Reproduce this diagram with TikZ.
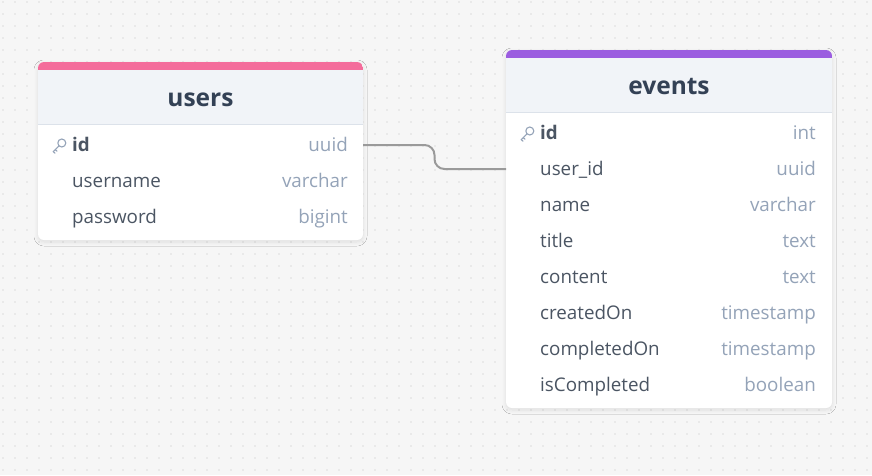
\documentclass[tikz,border=0pt]{standalone}
\usepackage{fontspec}
\setmainfont{Open Sans}
\usetikzlibrary{shadows.blur,calc}
\definecolor{bg}{HTML}{F6F6F6}
\definecolor{dotc}{HTML}{BEBEBE}
\definecolor{pinkband}{HTML}{F46C9B}
\definecolor{purpband}{HTML}{9B5DE0}
\definecolor{headfill}{HTML}{F1F4F8}
\definecolor{headline}{HTML}{DCE2EA}
\definecolor{titlec}{HTML}{334155}
\definecolor{fieldc}{HTML}{4B5563}
\definecolor{typec}{HTML}{94A3B8}
\definecolor{keyc}{HTML}{94A3B8}
\definecolor{linkc}{HTML}{9A9A9A}
\tikzset{
  tablebox/.style={fill=white, rounded corners=6pt, blur shadow={shadow blur steps=8, shadow xshift=0pt, shadow yshift=-2pt, shadow opacity=10, shadow blur radius=4pt}},
  tabletitle/.style={font=\fontsize{24.5}{28}\selectfont\bfseries, text=titlec, inner sep=0pt, anchor=base},
  fieldname/.style={font=\fontsize{18.8}{22}\selectfont, text=fieldc, anchor=base west, inner sep=0pt},
  keyname/.style={font=\fontsize{18.8}{22}\selectfont\bfseries, text=fieldc, anchor=base west, inner sep=0pt},
  fieldtype/.style={font=\fontsize{18.8}{22}\selectfont, text=typec, anchor=base east, inner sep=0pt},
  link/.style={draw=linkc, line width=2pt, rounded corners=10pt},
  keyicon/.style={draw=keyc, line width=1.1pt, line cap=round, line join=round}
}
\newcommand{\keyat}[2]{%
  \draw[keyicon] (#1+9.8,#2-2) circle (4);
  \draw[keyicon] (#1+7,#2+0.8) -- (#1+1.2,#2+6.6) -- (#1+3,#2+8.2) (#1+3.2,#2+4.6) -- (#1+5,#2+6.2);
}
\begin{document}
\begin{tikzpicture}[x=1pt,y=-1pt]
\fill[bg] (0,0) rectangle (872,475);
\useasboundingbox (0,0) rectangle (872,475);
\foreach \i in {3,15,...,871} {
  \foreach \j in {2,14,...,474} {
    \fill[dotc] (\i,\j) circle (0.6);
  }
}
% users table
\path[tablebox] (38,62) rectangle (363,240);
\begin{scope}
  \clip[rounded corners=6pt] (38,62) rectangle (363,240);
  \fill[pinkband] (38,62) rectangle (363,70);
  \fill[headfill] (38,70) rectangle (363,124);
  \draw[headline] (38,124.5) -- (363,124.5);
\end{scope}
\node[tabletitle] (users) at (200.5,106.5) {users};
\keyat{52}{145}
\node[keyname] (u-id-n) at (72,151) {id};
\node[fieldtype] (u-id-t) at (348,151) {uuid};
\node[fieldname] (u-un-n) at (72,187) {username};
\node[fieldtype] (u-un-t) at (348,187) {varchar};
\node[fieldname] (u-pw-n) at (72,223) {password};
\node[fieldtype] (u-pw-t) at (348,223) {bigint};
\coordinate (u-id) at (363,145);
% events table
\path[tablebox] (506,50) rectangle (832,408);
\begin{scope}
  \clip[rounded corners=6pt] (506,50) rectangle (832,408);
  \fill[purpband] (506,50) rectangle (832,58);
  \fill[headfill] (506,58) rectangle (832,112);
  \draw[headline] (506,112.5) -- (832,112.5);
\end{scope}
\node[tabletitle] (events) at (669,94.5) {events};
\keyat{520}{133}
\node[keyname] (e-id-n) at (540,139) {id};
\node[fieldtype] (e-id-t) at (816,139) {int};
\node[fieldname] (e-uid-n) at (540,175) {user\_id};
\node[fieldtype] (e-uid-t) at (816,175) {uuid};
\node[fieldname] (e-name-n) at (540,211) {name};
\node[fieldtype] (e-name-t) at (816,211) {varchar};
\node[fieldname] (e-title-n) at (540,247) {title};
\node[fieldtype] (e-title-t) at (816,247) {text};
\node[fieldname] (e-cont-n) at (540,283) {content};
\node[fieldtype] (e-cont-t) at (816,283) {text};
\node[fieldname] (e-cr-n) at (540,319) {createdOn};
\node[fieldtype] (e-cr-t) at (816,319) {timestamp};
\node[fieldname] (e-co-n) at (540,355) {completedOn};
\node[fieldtype] (e-co-t) at (816,355) {timestamp};
\node[fieldname] (e-ic-n) at (540,391) {isCompleted};
\node[fieldtype] (e-ic-t) at (816,391) {boolean};
\coordinate (e-uid) at (506,169);
% connector
\coordinate (mid) at ($(u-id)!0.5!(e-uid)$);
\draw[link] (u-id) -- (u-id -| mid) -- (mid |- e-uid) -- (e-uid);
\end{tikzpicture}
\end{document}
